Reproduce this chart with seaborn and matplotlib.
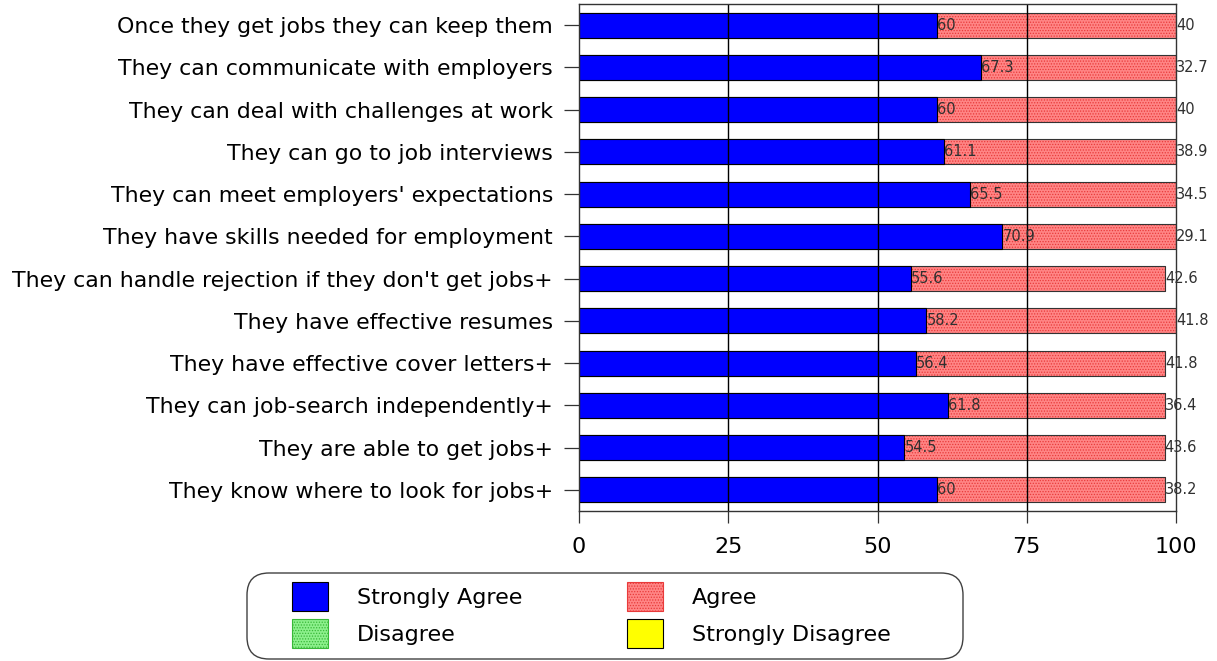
import matplotlib
matplotlib.use("Agg")
import matplotlib.pyplot as plt
import seaborn as sns
import pandas as pd
from matplotlib.patches import Patch, FancyBboxPatch

statements = [
    "Once they get jobs they can keep them",
    "They can communicate with employers",
    "They can deal with challenges at work",
    "They can go to job interviews",
    "They can meet employers' expectations",
    "They have skills needed for employment",
    "They can handle rejection if they don't get jobs+",
    "They have effective resumes",
    "They have effective cover letters+",
    "They can job-search independently+",
    "They are able to get jobs+",
    "They know where to look for jobs+",
]
strongly_agree = [60, 67.3, 60, 61.1, 65.5, 70.9, 55.6, 58.2, 56.4, 61.8, 54.5, 60]
agree = [40, 32.7, 40, 38.9, 34.5, 29.1, 42.6, 41.8, 41.8, 36.4, 43.6, 38.2]
disagree = [0] * 12
strongly_disagree = [0] * 12
xticks = [0, 25, 50, 75, 100]

sns.set_theme(style="white")
plt.rcParams["font.family"] = ["DejaVu Sans"]
plt.rcParams["hatch.linewidth"] = 0.6

df = pd.DataFrame({
    "statement": statements,
    "sa": strongly_agree,
    "a": agree,
    "d": disagree,
    "sd": strongly_disagree,
})
df["cum_a"] = df["sa"] + df["a"]
df["cum_d"] = df["cum_a"] + df["d"]
df["cum_sd"] = df["cum_d"] + df["sd"]

BLUE = "#0000ff"
RED = "#ff8585"
RED_DOT = "#e83a3a"
GREEN = "#8cf08c"
GREEN_DOT = "#38b838"
YELLOW = "#ffff00"
FS = 16
FS_Y = 15.8

fig = plt.figure(figsize=(12.17, 6.61), dpi=100)
ax = fig.add_axes([579 / 1217, 150 / 661, 597 / 1217, 507 / 661])

bar_w = 0.59
kw = dict(y="statement", width=bar_w, ax=ax, saturation=1)
sns.barplot(data=df, x="cum_sd", color=YELLOW, edgecolor="black", linewidth=0.7, **kw)
sns.barplot(data=df, x="cum_d", color=GREEN, edgecolor=GREEN_DOT, linewidth=0.7,
            hatch="......", **kw)
sns.barplot(data=df, x="cum_a", color=RED, edgecolor=RED_DOT, linewidth=0.7,
            hatch="......", **kw)
# dark outline for the agree segments
sns.barplot(data=df, x="cum_a", fill=False, edgecolor="#333333", linewidth=0.8, **kw)
sns.barplot(data=df, x="sa", color=BLUE, edgecolor="black", linewidth=0.8, **kw)

# segment values, written at the right end of each segment
for i, (s, a, c) in enumerate(zip(strongly_agree, agree, df["cum_a"])):
    ax.text(s, i, f"{s:g}", ha="left", va="center", fontsize=10.5,
            color="#303030", clip_on=False, zorder=5)
    ax.text(c, i, f"{a:g}", ha="left", va="center", fontsize=10.5,
            color="#303030", clip_on=False, zorder=5)

ax.set_xlim(0, 100)
ax.set_ylim(11.5, -0.5)
ax.set_xticks(xticks)
ax.set_xticklabels([str(t) for t in xticks], fontsize=FS, color="black")
ax.set_yticks(range(len(statements)))
ax.set_yticklabels(statements, fontsize=FS_Y, color="black")
ax.tick_params(axis="y", length=10.8, width=0.9, color="#333333",
               direction="out", left=True, pad=8)
ax.tick_params(axis="x", length=8.6, width=0.9, color="#333333",
               direction="out", bottom=True, pad=10)
ax.set_xlabel("")
ax.set_ylabel("")
for t in xticks[1:-1]:
    ax.axvline(t, color="black", linewidth=1.0, zorder=4)
for side in ["top", "right", "left", "bottom"]:
    ax.spines[side].set_visible(True)
    ax.spines[side].set_color("#333333")
    ax.spines[side].set_linewidth(1.0)
    ax.spines[side].set_zorder(6)

# legend: rounded frame plus a 2x2 grid of swatches
fig.patches.append(FancyBboxPatch(
    (2.47, 0.02), 9.63 - 2.47, 0.88 - 0.02,
    boxstyle="round,pad=0,rounding_size=0.22",
    transform=fig.dpi_scale_trans, facecolor="white",
    edgecolor="#404040", linewidth=1.0, zorder=0))

handles = [
    Patch(facecolor=BLUE, edgecolor="black", linewidth=0.8, label="Strongly Agree"),
    Patch(facecolor=GREEN, edgecolor=GREEN_DOT, linewidth=0.8, hatch="......", label="Disagree"),
    Patch(facecolor=RED, edgecolor=RED_DOT, linewidth=0.8, hatch="......", label="Agree"),
    Patch(facecolor=YELLOW, edgecolor="black", linewidth=0.8, label="Strongly Disagree"),
]
fs_px = FS * fig.dpi / 72
renderer = fig.canvas.get_renderer()
probe = fig.text(0, 0, "Strongly Agree", fontsize=FS)
w_first = probe.get_window_extent(renderer).width
probe.remove()
handle_w, handle_h, text_pad, row_pitch = 36, 29, 29, 37
col_gap = 627 - (292 + handle_w + text_pad + w_first)
# legend swatch height = fontsize * (0.65 * handleheight + 0.245)
hh = (handle_h / fs_px - 0.245) / 0.65

leg = fig.legend(handles=handles, ncol=2, loc="upper left",
                 bbox_to_anchor=(292 / 1217, (661 - 582) / 661),
                 fontsize=FS, frameon=False, borderpad=0, borderaxespad=0,
                 handlelength=handle_w / fs_px, handleheight=hh,
                 handletextpad=text_pad / fs_px, columnspacing=col_gap / fs_px,
                 labelspacing=(row_pitch - handle_h) / fs_px)
for txt in leg.get_texts():
    txt.set_color("black")

fig.savefig("out.png", dpi=100)
